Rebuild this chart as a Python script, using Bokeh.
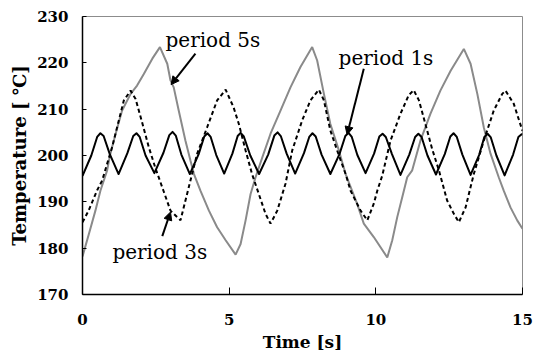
from bokeh.plotting import figure
from bokeh.models import Arrow, NormalHead, Range1d, Label
from bokeh.embed import file_html
from bokeh.resources import INLINE

# ---- data ----
t_1s = [0.00, 0.30, 0.50, 0.61, 0.72, 0.93,
        1.23, 1.53, 1.73, 1.84, 1.95, 2.15,
        2.45, 2.76, 2.96, 3.07, 3.18, 3.37,
        3.66, 3.96, 4.15, 4.26, 4.37, 4.56,
        4.83, 5.11, 5.29, 5.39, 5.50, 5.72,
        6.02, 6.33, 6.54, 6.65, 6.76, 6.96,
        7.25, 7.55, 7.73, 7.84, 7.95, 8.15,
        8.45, 8.76, 8.96, 9.07, 9.18, 9.37,
        9.65, 9.94, 10.12, 10.23, 10.34, 10.55,
        10.84, 11.14, 11.34, 11.45, 11.56, 11.76,
        12.05, 12.35, 12.54, 12.65, 12.76, 12.95,
        13.23, 13.52, 13.70, 13.81, 13.92, 14.11,
        14.39, 14.68, 14.86, 14.97, 15.00]
T_1s = [195.6, 200.0, 204.0, 204.8, 204.2, 200.3,
        196.0, 200.5, 204.2, 204.8, 204.0, 200.0,
        196.2, 200.6, 204.4, 205.1, 204.3, 200.2,
        196.0, 200.3, 204.1, 204.8, 204.0, 200.1,
        196.1, 200.4, 204.2, 204.9, 204.1, 200.0,
        196.0, 200.2, 204.3, 205.0, 204.2, 200.4,
        196.1, 200.5, 204.0, 204.8, 204.1, 200.2,
        196.0, 200.3, 204.2, 204.9, 204.0, 200.1,
        196.2, 200.4, 204.1, 204.7, 204.0, 200.3,
        195.8, 200.2, 204.0, 204.7, 204.0, 200.0,
        195.9, 200.3, 204.1, 204.8, 204.0, 200.2,
        195.8, 200.1, 204.0, 204.7, 203.9, 200.0,
        195.7, 200.2, 204.0, 204.6, 204.5]

t_3s = [0.00, 0.20, 0.50, 0.67, 1.01, 1.41, 1.64,
        1.81, 2.03, 2.26, 2.49, 2.76, 3.00, 3.34,
        3.91, 4.25, 4.59, 4.88,
        5.15, 5.33, 5.56, 5.78, 6.01, 6.24, 6.41,
        6.64, 6.92, 7.15, 7.49, 7.77, 8.06,
        8.23, 8.45, 8.68, 8.97, 9.14, 9.48, 9.71,
        9.93, 10.05, 10.22, 10.50, 10.84, 11.12, 11.29,
        11.47, 11.69, 11.92, 12.15, 12.43, 12.66, 12.83,
        13.06, 13.23, 13.34, 13.68, 14.02, 14.31, 14.42,
        14.70, 15.00]
T_3s = [185.6, 188.0, 192.5, 194.6, 201.8, 211.9, 214.0,
        212.2, 207.2, 201.8, 197.2, 192.4, 188.1, 186.0,
        200.4, 206.1, 211.9, 214.2,
        210.4, 206.8, 201.1, 196.0, 191.7, 187.4, 185.3,
        188.1, 193.9, 201.1, 207.6, 211.9, 214.2,
        211.9, 205.4, 201.1, 196.0, 192.4, 188.1, 186.0,
        189.6, 192.4, 195.7, 203.2, 209.0, 213.0, 214.1,
        211.9, 206.8, 201.4, 196.8, 190.3, 187.4, 185.6,
        188.8, 193.2, 196.0, 203.2, 209.7, 213.3, 214.0,
        211.2, 205.3]

t_5s = [0.00, 0.22, 0.44, 0.61, 0.84, 0.95, 1.13, 1.35, 1.64, 1.86, 2.09, 2.38, 2.64,
        2.89, 3.00, 3.11, 3.28, 3.51, 3.68, 3.80, 4.02, 4.31, 4.59, 4.88, 5.22,
        5.39, 5.56, 5.73, 5.90, 6.13, 6.41, 6.75, 7.09, 7.43, 7.83,
        8.00, 8.23, 8.45, 8.74, 8.97, 9.36, 9.59, 9.93, 10.39,
        10.56, 10.73, 10.90, 11.07, 11.24, 11.52, 11.86, 12.20, 12.55, 13.00,
        13.23, 13.46, 13.68, 13.91, 14.19, 14.36, 14.59, 14.82, 15.00]
T_5s = [178.2, 183.1, 188.1, 192.4, 196.8, 200.4, 204.7, 209.7, 213.3, 215.1, 217.6, 220.9, 223.4,
        219.8, 216.2, 214.7, 209.7, 203.2, 198.9, 196.0, 192.4, 188.1, 184.5, 181.7, 178.6,
        180.9, 186.0, 191.7, 195.3, 199.6, 204.7, 209.7, 214.7, 219.1, 223.4,
        220.5, 213.3, 206.8, 201.1, 196.0, 189.6, 185.3, 182.4, 178.0,
        181.7, 186.7, 191.0, 195.3, 196.8, 203.2, 209.0, 214.0, 218.3, 223.0,
        219.8, 213.3, 206.1, 200.4, 195.3, 192.4, 188.8, 186.0, 184.2]

x_ticks = [0, 5, 10, 15]
y_ticks = [170, 180, 190, 200, 210, 220, 230]

labels = ["period 5s", "period 1s", "period 3s"]
label_x = [2.83, 8.73, 1.02]
label_y = [227.6, 223.7, 181.7]
arrow_x0 = [3.85, 9.59, 2.72]
arrow_y0 = [222.0, 218.7, 182.6]
arrow_x1 = [3.02, 9.02, 3.00]
arrow_y1 = [215.3, 204.5, 187.8]

SERIF = "DejaVu Serif"

p = figure(width=533, height=354, output_backend="svg", toolbar_location=None,
           x_range=Range1d(0, 15), y_range=Range1d(170, 230),
           min_border_left=82, min_border_right=11, min_border_top=16,
           min_border_bottom=60)
p.background_fill_color = "white"
p.border_fill_color = "white"
p.outline_line_color = "#8c8c8c"
p.outline_line_width = 1
p.grid.visible = False

p.line(t_5s, T_5s, line_color="#8a8a8a", line_width=2)
p.line(t_3s, T_3s, line_color="black", line_width=2, line_dash="4 3")
p.line(t_1s, T_1s, line_color="black", line_width=2, line_join="round")

for axes in (p.xaxis, p.yaxis):
    axes.axis_line_color = "black"
    axes.axis_line_width = 1.5
    axes.major_tick_out = 0
    axes.minor_tick_line_color = None
    axes.major_label_text_font = SERIF
    axes.major_label_text_font_style = "bold"
    axes.major_label_text_color = "black"
    axes.axis_label_text_font = SERIF
    axes.axis_label_text_font_style = "bold"
    axes.axis_label_text_color = "black"

p.xaxis.ticker = x_ticks
p.yaxis.ticker = y_ticks
p.xaxis.major_tick_in = 7
p.yaxis.major_tick_in = 4
p.xaxis.major_label_text_font_size = "15px"
p.yaxis.major_label_text_font_size = "15px"
p.xaxis.major_label_standoff = 19
p.yaxis.major_label_standoff = 14
p.xaxis.axis_label = "Time [s]"
p.yaxis.axis_label = "Temperature [ ℃]"
p.xaxis.axis_label_text_font_size = "17px"
p.yaxis.axis_label_text_font_size = "18px"
p.xaxis.axis_label_standoff = 4
p.yaxis.axis_label_standoff = 4

for txt, lx, ly in zip(labels, label_x, label_y):
    p.add_layout(Label(x=lx, y=ly, text=txt, text_font=SERIF, text_font_size="20px",
                       text_color="black", text_baseline="top"))

for x0, y0, x1, y1 in zip(arrow_x0, arrow_y0, arrow_x1, arrow_y1):
    p.add_layout(Arrow(end=NormalHead(size=8, fill_color="black", line_color="black"),
                       x_start=x0, y_start=y0, x_end=x1, y_end=y1,
                       line_color="black", line_width=2))

open("out.html", "w").write(file_html(p, INLINE))
